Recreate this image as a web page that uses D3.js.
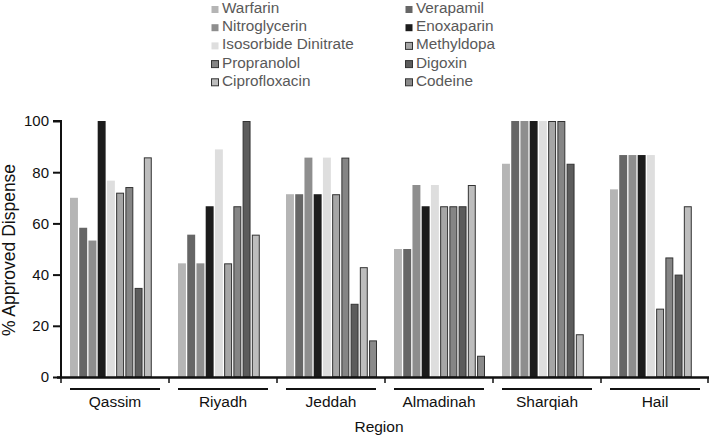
<!DOCTYPE html>
<html><head><meta charset="utf-8">
<script src="https://cdn.jsdelivr.net/npm/d3@7"></script>
<style>body{margin:0;background:#fff}svg{display:block;font-family:"Liberation Sans",Arial,sans-serif}</style>
</head><body><svg id="c" width="709" height="436"></svg>
<script>
const regions = ["Qassim","Riyadh","Jeddah","Almadinah","Sharqiah","Hail"];
const drugs = ["Warfarin","Verapamil","Nitroglycerin","Enoxaparin","Isosorbide Dinitrate","Methyldopa","Propranolol","Digoxin","Ciprofloxacin","Codeine"];
const qassim    = [70, 58.3, 53.3, 100, 76.7, 72, 74.2, 34.8, 85.8, 0];
const riyadh    = [44.4, 55.6, 44.4, 66.7, 88.9, 44.4, 66.7, 100, 55.6, 0];
const jeddah    = [71.4, 71.4, 85.7, 71.4, 85.7, 71.4, 85.7, 28.6, 42.9, 14.3];
const almadinah = [50, 50, 75, 66.7, 75, 66.7, 66.7, 66.7, 75, 8.3];
const sharqiah  = [83.3, 100, 100, 100, 100, 100, 100, 83.3, 16.7, 0];
const hail      = [73.3, 86.7, 86.7, 86.7, 86.7, 26.7, 46.7, 40, 66.7, 0];
const yTicks = [0, 20, 40, 60, 80, 100];

const series = [qassim, riyadh, jeddah, almadinah, sharqiah, hail];
const fills   = ["#b5b5b5","#666666","#8e8e8e","#1c1c1c","#dedede","#a6a6a6","#858585","#5c5c5c","#bdbdbd","#8a8a8a"];
const strokes = [null,null,null,null,null,"#333","#333","#333","#333","#333"];

const svg = d3.select("#c");
const x0 = d3.scaleBand().domain(regions).range([61, 709]);
const x1 = d3.scaleBand().domain(drugs).range([9, 100]).paddingInner(0.14);
const y = d3.scaleLinear().domain([0, 100]).range([377, 121]);

// bars
regions.forEach((r, ri) => {
  const g = svg.append("g").attr("transform", `translate(${x0(r)},0)`);
  g.selectAll("rect").data(drugs.map((d, i) => ({d, i, v: series[ri][i]})).filter(o => o.v > 0))
    .join("rect")
    .attr("x", o => x1(o.d) + (strokes[o.i] ? 0.5 : 0))
    .attr("y", o => y(o.v) + (strokes[o.i] ? 0.5 : 0))
    .attr("width", o => x1.bandwidth() - (strokes[o.i] ? 1 : 0))
    .attr("height", o => y(0) - y(o.v) - (strokes[o.i] ? 0.5 : 0))
    .attr("fill", o => fills[o.i])
    .attr("stroke", o => strokes[o.i] || "none")
    .attr("stroke-width", 1);
});

// y axis
const yAxis = svg.append("g").attr("transform", "translate(61,0)")
  .call(d3.axisLeft(y).tickValues(yTicks).tickSize(8).tickPadding(4));
yAxis.select(".domain").attr("stroke", "#111").attr("stroke-width", 2).attr("d", "M-8,121H0V378");
yAxis.selectAll(".tick line").attr("stroke", "#111").attr("stroke-width", 2);
yAxis.selectAll(".tick text").attr("font-size", 15).attr("fill", "#111").attr("font-family", "Liberation Sans, Arial, sans-serif");

// x axis baseline with group boundary ticks
const bounds = regions.map(r => x0(r)).concat([x0.range()[1] - 1]);
svg.append("line").attr("x1", 57).attr("x2", 709).attr("y1", 377.5).attr("y2", 377.5)
  .attr("stroke", "#111").attr("stroke-width", 2.5);
svg.selectAll(".bt").data(bounds).join("line")
  .attr("x1", d => d).attr("x2", d => d).attr("y1", 377).attr("y2", 383)
  .attr("stroke", "#111").attr("stroke-width", 1.5);

// group underlines and labels
regions.forEach(r => {
  const cx = x0(r) + x0.bandwidth() / 2;
  svg.append("line").attr("x1", cx - 45).attr("x2", cx + 45).attr("y1", 389).attr("y2", 389)
    .attr("stroke", "#111").attr("stroke-width", 2);
  svg.append("text").attr("x", cx).attr("y", 407).attr("text-anchor", "middle")
    .attr("font-size", 15.5).attr("fill", "#111").text(r);
});

svg.append("text").attr("x", x0(regions[3]) - 6).attr("y", 432).attr("text-anchor", "middle")
  .attr("font-size", 15.5).attr("fill", "#111").text("Region");
svg.append("text").attr("transform", "translate(15,250) rotate(-90)").attr("text-anchor", "middle")
  .attr("font-size", 17.5).attr("fill", "#111").text("% Approved Dispense");

// legend
const leg = svg.append("g");
drugs.forEach((d, i) => {
  const col = i % 2, row = Math.floor(i / 2);
  const lx = col === 0 ? 211 : 405, ly = 13 + row * 18.2;
  leg.append("rect").attr("x", lx + 0.5).attr("y", ly - 7).attr("width", 7).attr("height", 7)
    .attr("fill", fills[i]).attr("stroke", strokes[i] || "none");
  leg.append("text").attr("x", lx + 11).attr("y", ly).attr("font-size", 15.3)
    .attr("fill", "#595959").text(d);
});
</script></body></html>
